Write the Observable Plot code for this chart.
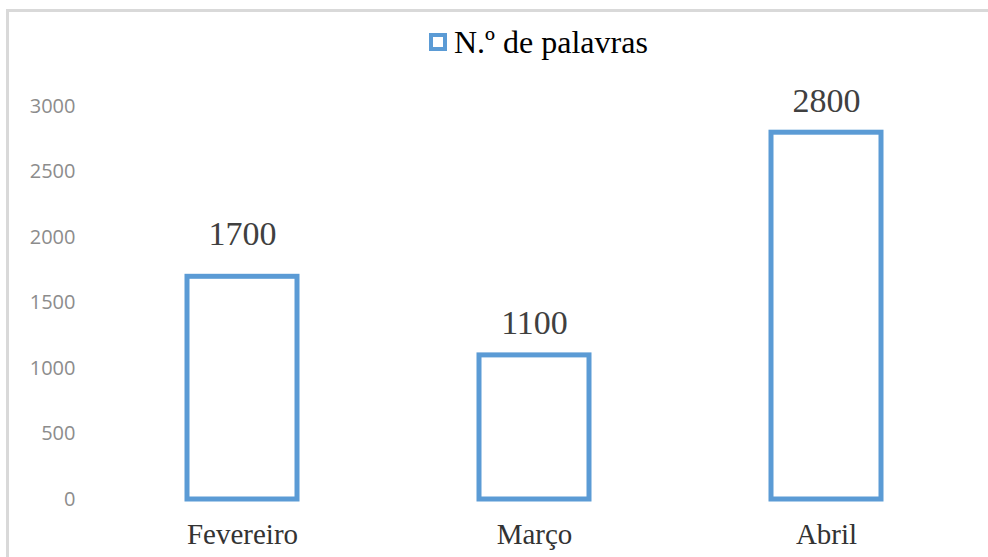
<!DOCTYPE html>
<html>
<head>
<meta charset="utf-8">
<script src="https://cdn.jsdelivr.net/npm/d3@7"></script>
<script src="https://cdn.jsdelivr.net/npm/@observablehq/plot@0.6"></script>
<style>
  html, body { margin: 0; padding: 0; background: #fff; overflow: hidden; }
  #wrap { position: relative; width: 988px; height: 557px; }
  #frame { position: absolute; left: 6px; top: 9px; width: 1000px; height: 600px;
           border-left: 3px solid #d9d9d9; border-top: 3px solid #d9d9d9; box-sizing: border-box; }
  #legend { position: relative; height: 85px; }
  #legend .sw { position: absolute; left: 429px; top: 33px; width: 18px; height: 18px;
                box-sizing: border-box; border: 4px solid #5B9BD5; background: #fff; }
  #legend .lab { position: absolute; left: 454px; top: 24px; font-family: "Liberation Serif", serif;
                 font-size: 32px; color: #000; line-height: 36px; white-space: nowrap; }
  #chart { position: relative; }
</style>
</head>
<body>
<div id="wrap">
  <div id="frame"></div>
  <div id="legend"><div class="sw"></div><div class="lab">N.º de palavras</div></div>
  <div id="chart"></div>
</div>
<script>
const months = ["Fevereiro", "Março", "Abril"];
const words = [1700, 1100, 2800];
const yTicks = [0, 500, 1000, 1500, 2000, 2500, 3000];
const seriesName = "N.º de palavras";

const data = months.map((m, i) => ({month: m, value: words[i]}));

const labelStyle = {x: "month", y: "value", text: d => String(d.value),
                    lineAnchor: "bottom", fontSize: 34,
                    fontFamily: "Liberation Serif", fill: "#404040"};

const chart = Plot.plot({
  width: 988,
  height: 472,
  marginLeft: 96,
  marginRight: 16,
  marginTop: 21,
  marginBottom: 58,
  style: {background: "transparent", overflow: "visible"},
  x: {domain: months, padding: 0, label: null},
  y: {domain: [0, 3000], label: null},
  marks: [
    Plot.axisY({ticks: yTicks, tickFormat: d => String(d), tickSize: 0, tickPadding: 21, fontSize: 20,
                fontFamily: "Open Sans", fill: "#8c8c8c", label: null}),
    Plot.axisX({tickSize: 0, tickPadding: 24, fontSize: 29,
                fontFamily: "Liberation Serif", fill: "#333", label: null}),
    Plot.barY(data, {x: "month", y: "value", fill: "white", stroke: "#5B9BD5",
                     strokeWidth: 5, insetLeft: 91, insetRight: 91}),
    Plot.text(data.slice(0, 1), {...labelStyle, dy: -32}),
    Plot.text(data.slice(1), {...labelStyle, dy: -21})
  ]
});
document.getElementById("chart").appendChild(chart);
</script>
</body>
</html>
